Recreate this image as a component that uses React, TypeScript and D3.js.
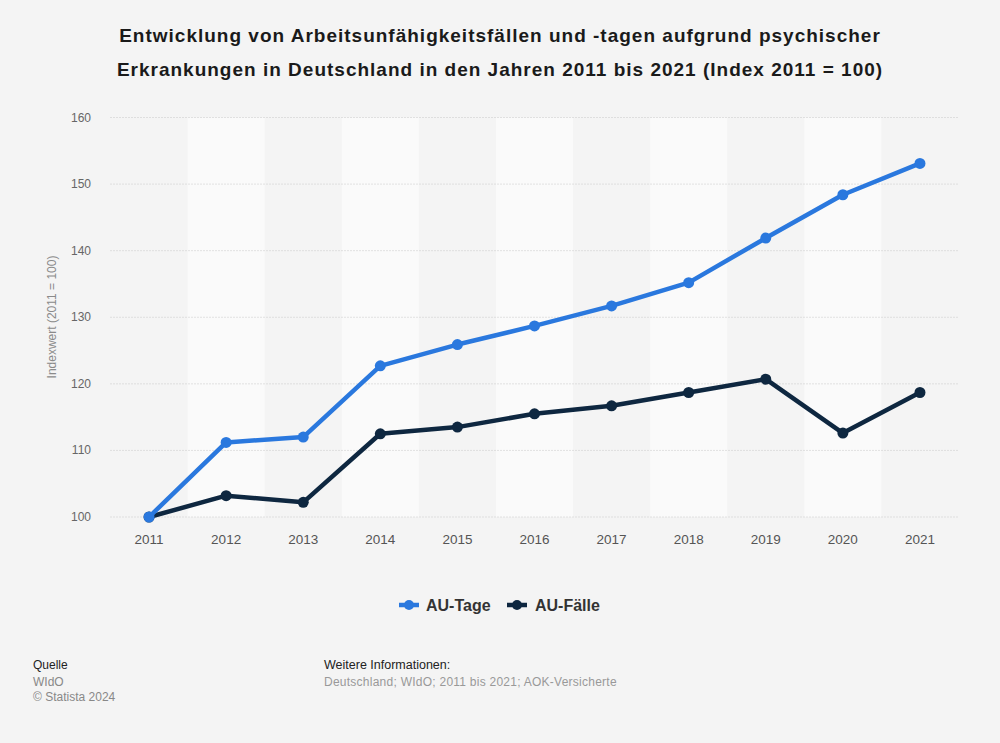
import React from "react";
import * as d3 from "d3";

const years = ["2011","2012","2013","2014","2015","2016","2017","2018","2019","2020","2021"];
const auTage = [100, 111.2, 112.0, 122.7, 125.9, 128.7, 131.7, 135.2, 141.9, 148.4, 153.1];
const auFaelle = [100, 103.2, 102.2, 112.5, 113.5, 115.5, 116.7, 118.7, 120.7, 112.6, 118.7];
const yTicks = [100, 110, 120, 130, 140, 150, 160];
const titleLines = [
  "Entwicklung von Arbeitsunfähigkeitsfällen und -tagen aufgrund psychischer",
  "Erkrankungen in Deutschland in den Jahren 2011 bis 2021 (Index 2011 = 100)",
];

const W = 1000, H = 743;
const FONT = "'Liberation Sans', Arial, sans-serif";
const BLUE = "#2a78de";
const DARK = "#0e2740";

export default function App() {
  const x = d3.scaleBand<string>().domain(years).range([110.5, 958.5]).padding(0);
  const y = d3.scaleLinear().domain([100, 160]).range([517, 117.5]);
  const cx = (d: string) => (x(d) as number) + x.bandwidth() / 2;
  const line = d3.line<number>().x((_, i) => cx(years[i])).y((v) => y(v));

  const series = [
    { name: "AU-Tage", values: auTage, color: BLUE },
    { name: "AU-Fälle", values: auFaelle, color: DARK },
  ];

  return (
    <div style={{ position: "absolute", left: 0, top: 0 }}>
      <svg width={W} height={H} style={{ display: "block", fontFamily: FONT }}>
        <rect width={W} height={H} fill="#f4f4f4" />
        {titleLines.map((t, i) => (
          <text key={i} x={500} y={42 + i * 34} textAnchor="middle" fontSize={19} letterSpacing={1} fontWeight="bold" fill="#1a1a1a">{t}</text>
        ))}
        {years.map((yr, i) =>
          i % 2 === 1 ? (
            <rect key={yr} x={x(yr)} y={y(160)} width={x.bandwidth()} height={y(100) - y(160)} fill="#fafafa" />
          ) : null
        )}
        {yTicks.map((t) => (
          <g key={t}>
            <line x1={110.5} x2={958.5} y1={y(t)} y2={y(t)} stroke="#c8c8c8" strokeDasharray="1,2" />
            <text x={91} y={y(t) + 4} textAnchor="end" fontSize={12} fill="#666">{t}</text>
          </g>
        ))}
        {years.map((yr) => (
          <text key={yr} x={cx(yr)} y={543.5} textAnchor="middle" fontSize={13.5} fill="#555">{yr}</text>
        ))}
        <text transform={`translate(56,317) rotate(-90)`} textAnchor="middle" fontSize={12} fill="#8a8a8a">Indexwert (2011 = 100)</text>
        {series.slice().reverse().map((s) => (
          <g key={s.name}>
            <path d={line(s.values) as string} fill="none" stroke={s.color} strokeWidth={4.5} strokeLinejoin="round" strokeLinecap="round" />
            {s.values.map((v, i) => (
              <circle key={i} cx={cx(years[i])} cy={y(v)} r={5.5} fill={s.color} />
            ))}
          </g>
        ))}
        {/* legend */}
        <g>
          <line x1={399} x2={419} y1={605} y2={605} stroke={BLUE} strokeWidth={4.5} />
          <circle cx={409} cy={605} r={5} fill={BLUE} />
          <text x={426} y={611} fontSize={16} fontWeight="bold" fill="#333">AU-Tage</text>
          <line x1={507} x2={527} y1={605} y2={605} stroke={DARK} strokeWidth={4.5} />
          <circle cx={517} cy={605} r={5} fill={DARK} />
          <text x={535} y={611} fontSize={16} fontWeight="bold" fill="#333">AU-Fälle</text>
        </g>
        {/* footer */}
        <text x={33} y={669} fontSize={12} fill="#222">Quelle</text>
        <text x={33} y={686} fontSize={12} fill="#888">WIdO</text>
        <text x={33} y={701} fontSize={12} fill="#888">© Statista 2024</text>
        <text x={324} y={669} fontSize={12.5} fill="#222">Weitere Informationen:</text>
        <text x={324} y={686} fontSize={12} letterSpacing={0.25} fill="#999">Deutschland; WIdO; 2011 bis 2021; AOK-Versicherte</text>
      </svg>
    </div>
  );
}
